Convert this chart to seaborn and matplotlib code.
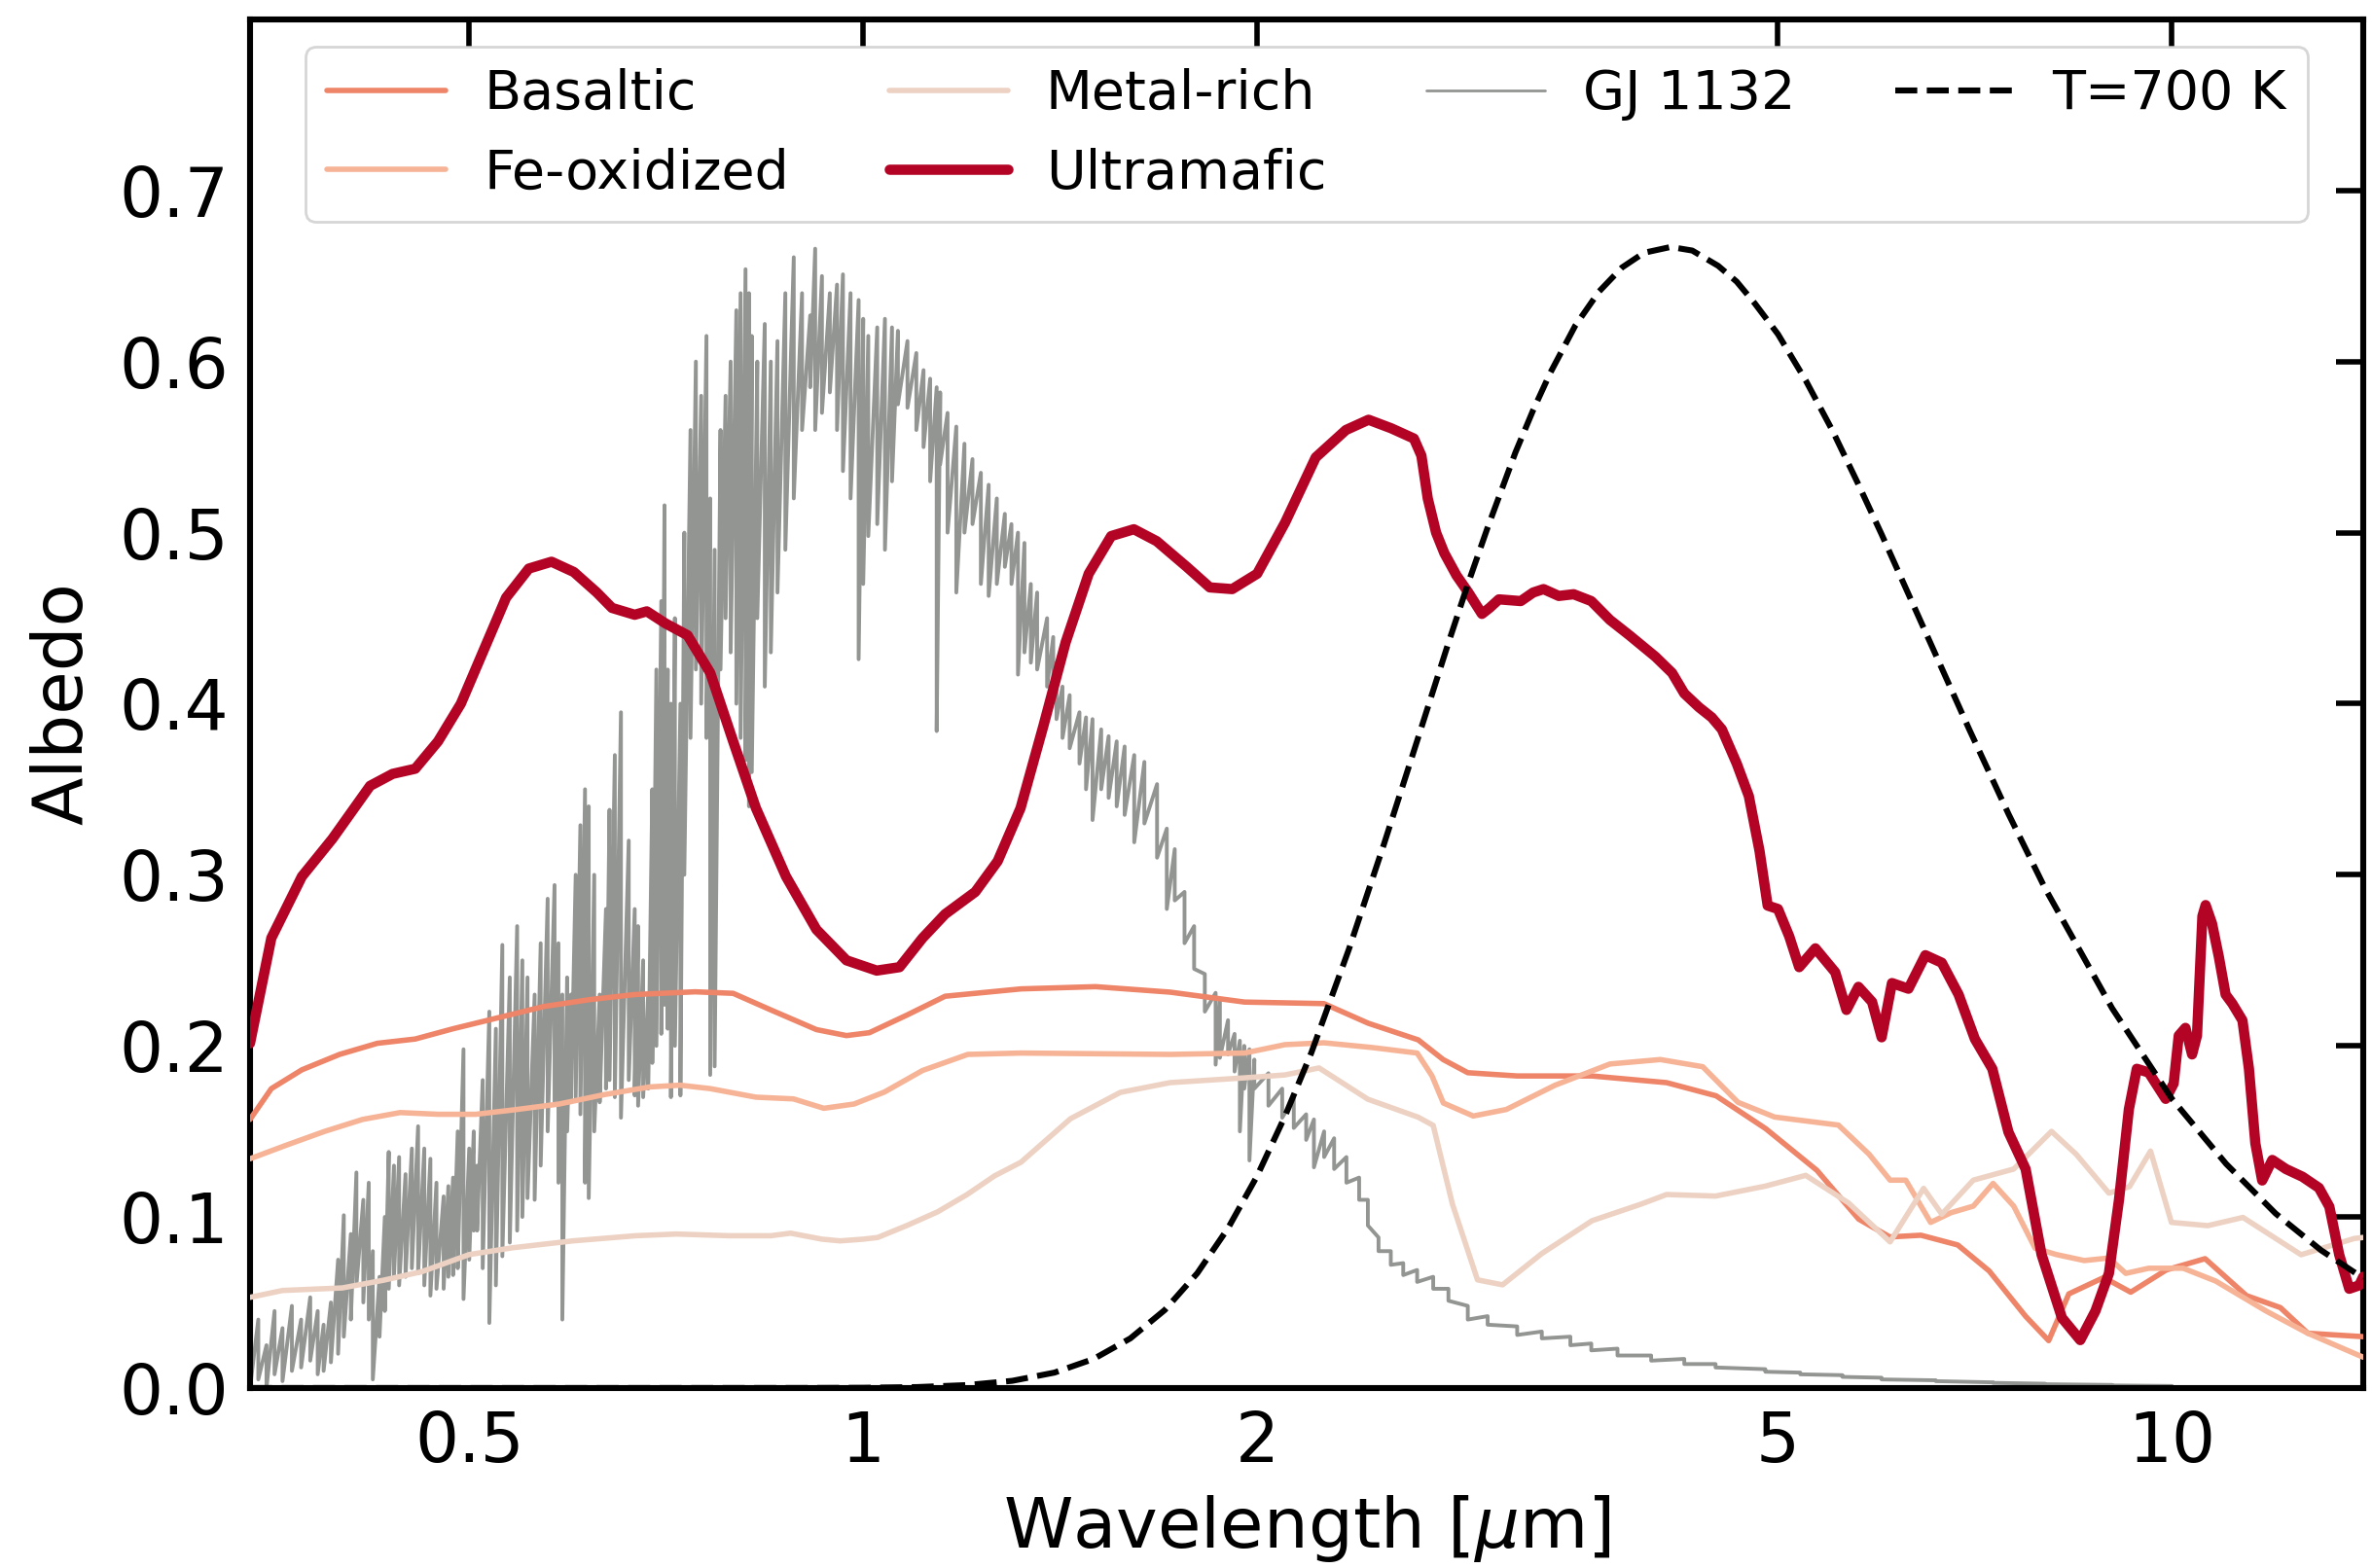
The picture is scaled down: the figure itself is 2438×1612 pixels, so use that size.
import matplotlib
matplotlib.use("Agg")
import matplotlib.pyplot as plt
from matplotlib.ticker import NullLocator
import pandas as pd
import seaborn as sns

# ---------------- surface albedo spectra ----------------
basaltic_wave = [0.34, 0.353, 0.3725, 0.398, 0.4254, 0.4547, 0.486, 0.5265, 0.57, 0.6176,
                 0.669, 0.744, 0.7955, 0.85, 0.921, 0.971, 1.011, 1.08, 1.155, 1.32,
                 1.505, 1.716, 1.956, 2.249, 2.432, 2.655, 2.774, 2.897, 3.16, 3.605,
                 4.11, 4.484, 4.893, 5.355, 5.763, 6.087, 6.43, 6.86, 7.25, 7.73,
                 8.05, 8.34, 8.87, 9.3, 9.9, 10.6, 11.4, 12.1, 12.7, 14.0]
basaltic_albedo = [0.157, 0.175, 0.186, 0.195, 0.2015, 0.204, 0.210, 0.2165, 0.223, 0.227,
                   0.230, 0.2316, 0.2307, 0.221, 0.2095, 0.206, 0.2077, 0.218, 0.229, 0.2333,
                   0.2346, 0.2314, 0.2256, 0.2247, 0.2132, 0.2035, 0.192, 0.1843, 0.1824, 0.1824,
                   0.1785, 0.1708, 0.1516, 0.1272, 0.0987, 0.0883, 0.0893, 0.0836, 0.0684, 0.0419,
                   0.0277, 0.055, 0.0646, 0.056, 0.069, 0.0756, 0.054, 0.047, 0.032, 0.030]

feox_wave = [0.34, 0.3626, 0.3877, 0.4145, 0.4428, 0.4733, 0.5058, 0.541, 0.5857, 0.634,
             0.6871, 0.7247, 0.7641, 0.828, 0.8844, 0.9331, 0.984, 1.038, 1.11, 1.202,
             1.32, 1.716, 1.956, 2.1, 2.249, 2.45, 2.65, 2.72, 2.775, 2.925,
             3.10, 3.378, 3.72, 4.065, 4.38, 4.66, 4.97, 5.56, 5.87, 6.09,
             6.26, 6.54, 6.78, 7.05, 7.30, 7.57, 7.86, 8.16, 8.57, 8.95,
             9.22, 9.6, 10.2, 10.8, 11.8, 12.7, 13.9, 14.0]
feox_albedo = [0.134, 0.142, 0.150, 0.157, 0.161, 0.160, 0.160, 0.1626, 0.166, 0.1715,
               0.176, 0.177, 0.175, 0.170, 0.169, 0.1635, 0.166, 0.173, 0.1856, 0.195,
               0.1958, 0.195, 0.1958, 0.2007, 0.2018, 0.199, 0.1958, 0.1825, 0.1666, 0.159,
               0.1628, 0.177, 0.1894, 0.192, 0.1878, 0.167, 0.1584, 0.1537, 0.1366, 0.1215,
               0.1215, 0.0968, 0.1025, 0.1063, 0.1196, 0.1063, 0.0817, 0.078, 0.0745, 0.076,
               0.067, 0.070, 0.070, 0.0625, 0.045, 0.032, 0.019, 0.018]

metal_wave = [0.34, 0.36, 0.40, 0.43, 0.46, 0.50, 0.54, 0.60, 0.67, 0.72,
              0.79, 0.85, 0.88, 0.93, 0.96, 1.00, 1.026, 1.08, 1.14, 1.20,
              1.26, 1.32, 1.44, 1.572, 1.716, 1.956, 2.1, 2.23, 2.43, 2.655,
              2.726, 2.82, 2.947, 3.08, 3.30, 3.605, 3.93, 4.11, 4.48, 4.89,
              5.25, 5.66, 6.09, 6.46, 6.67, 7.05, 7.57, 8.09, 8.45, 8.95,
              9.28, 9.63, 9.99, 10.65, 11.33, 12.55, 13.78, 14.0]
metal_albedo = [0.053, 0.057, 0.0585, 0.063, 0.068, 0.078, 0.082, 0.086, 0.089, 0.090,
                0.089, 0.089, 0.0905, 0.087, 0.086, 0.087, 0.088, 0.095, 0.103, 0.113,
                0.124, 0.132, 0.1574, 0.1728, 0.1785, 0.1813, 0.183, 0.1871, 0.1688, 0.1583,
                0.1535, 0.1074, 0.0632, 0.0603, 0.0786, 0.0978, 0.1075, 0.1131, 0.1122, 0.118,
                0.1243, 0.1082, 0.0854, 0.1167, 0.1016, 0.1215, 0.128, 0.150, 0.1366, 0.1139,
                0.1177, 0.1385, 0.0968, 0.0949, 0.0997, 0.0779, 0.0874, 0.088]

ultramafic_wave = [0.34, 0.353, 0.3725, 0.393, 0.420, 0.437, 0.4547, 0.4733, 0.4927, 0.5127,
                   0.5335, 0.5553, 0.5779, 0.601, 0.6259, 0.6428, 0.669, 0.6834, 0.706, 0.7342,
                   0.7641, 0.7955, 0.828, 0.873, 0.921, 0.971, 1.024, 1.066, 1.110, 1.155,
                   1.218, 1.267, 1.319, 1.373, 1.428, 1.487, 1.547, 1.610, 1.676, 1.767,
                   1.840, 1.914, 2.0, 2.101, 2.217, 2.338, 2.433, 2.532, 2.635, 2.67,
                   2.70, 2.74, 2.78, 2.84, 2.90, 2.97, 3.01, 3.06, 3.18, 3.25,
                   3.31, 3.40, 3.49, 3.60, 3.72, 3.85, 4.03, 4.15, 4.24, 4.35,
                   4.45, 4.53, 4.65, 4.75, 4.84, 4.91, 5.0, 5.10, 5.19, 5.34,
                   5.53, 5.64, 5.76, 5.90, 6.0, 6.11, 6.29, 6.48, 6.67, 6.87,
                   7.07, 7.29, 7.50, 7.73, 7.95, 8.24, 8.51, 8.74, 8.95, 9.11,
                   9.27, 9.40, 9.60, 9.89, 10.03, 10.12, 10.24, 10.36, 10.45, 10.55,
                   10.61, 10.73, 10.86, 10.99, 11.12, 11.32, 11.45, 11.58, 11.72, 11.93,
                   12.22, 12.58, 12.95, 13.19, 13.42, 13.66, 13.90, 14.0]
ultramafic_albedo = [0.2015, 0.263, 0.299, 0.321, 0.352, 0.359, 0.362, 0.378, 0.400, 0.431,
                     0.462, 0.479, 0.483, 0.477, 0.465, 0.456, 0.452, 0.454, 0.447, 0.440,
                     0.418, 0.378, 0.339, 0.299, 0.268, 0.250, 0.244, 0.246, 0.263, 0.277,
                     0.290, 0.308, 0.339, 0.387, 0.436, 0.476, 0.498, 0.502, 0.495, 0.480,
                     0.468, 0.467, 0.476, 0.506, 0.544, 0.560, 0.566, 0.561, 0.555, 0.545,
                     0.520, 0.500, 0.488, 0.475, 0.465, 0.4525, 0.456, 0.461, 0.460, 0.465,
                     0.467, 0.463, 0.464, 0.460, 0.449, 0.440, 0.4275, 0.418, 0.406, 0.398,
                     0.392, 0.385, 0.365, 0.346, 0.314, 0.282, 0.280, 0.264, 0.246, 0.257,
                     0.243, 0.221, 0.2345, 0.2257, 0.205, 0.2367, 0.2334, 0.253, 0.2486, 0.230,
                     0.204, 0.1866, 0.1496, 0.128, 0.078, 0.041, 0.028, 0.045, 0.067, 0.110,
                     0.163, 0.1866, 0.1844, 0.169, 0.178, 0.206, 0.2105, 0.195, 0.206, 0.2758,
                     0.2823, 0.2715, 0.252, 0.230, 0.2247, 0.2149, 0.1866, 0.143, 0.1213, 0.1333,
                     0.128, 0.1235, 0.117, 0.106, 0.078, 0.058, 0.060, 0.065]

# ---------------- GJ 1132 stellar spectrum (upper / lower envelope) ----------------
gj_wave = [0.340, 0.345, 0.350, 0.355, 0.360, 0.366, 0.372, 0.378, 0.383, 0.387,
           0.392, 0.397, 0.401, 0.406, 0.410, 0.415, 0.419, 0.422, 0.427, 0.431,
           0.434, 0.438, 0.442, 0.447, 0.452, 0.457, 0.462, 0.467, 0.472, 0.478,
           0.482, 0.486, 0.490, 0.495, 0.500, 0.504, 0.507, 0.512, 0.518, 0.524,
           0.530, 0.537, 0.544, 0.549, 0.554, 0.561, 0.567, 0.574, 0.581, 0.585,
           0.589, 0.594, 0.598, 0.603, 0.608, 0.613, 0.617, 0.623, 0.629, 0.636,
           0.640, 0.646, 0.653, 0.662, 0.669, 0.673, 0.679, 0.685, 0.690, 0.695,
           0.701, 0.705, 0.709, 0.713, 0.718, 0.725, 0.730, 0.738, 0.745, 0.752,
           0.759, 0.764, 0.770, 0.778, 0.785, 0.792, 0.800, 0.806, 0.813, 0.818,
           0.822, 0.830, 0.841, 0.850, 0.860, 0.872, 0.885, 0.898, 0.911, 0.919,
           0.930, 0.943, 0.955, 0.965, 0.978, 0.992, 1.000, 1.009, 1.025, 1.039,
           1.052, 1.063, 1.081, 1.098, 1.112, 1.125, 1.138, 1.145, 1.160, 1.178,
           1.195, 1.212, 1.230, 1.247, 1.265, 1.283, 1.298, 1.313, 1.328, 1.343,
           1.358, 1.382, 1.397, 1.405, 1.420, 1.438, 1.463, 1.480, 1.497, 1.520,
           1.540, 1.562, 1.584, 1.611, 1.640, 1.677, 1.706, 1.730, 1.760, 1.790,
           1.824, 1.859, 1.873, 1.900, 1.922, 1.940, 1.955, 1.973, 1.990, 2.040,
           2.090, 2.133, 2.180, 2.210, 2.250, 2.290, 2.340, 2.393, 2.430, 2.476,
           2.530, 2.586, 2.650, 2.726, 2.800, 2.897, 3.000, 3.160, 3.300, 3.470,
           3.600, 3.770, 4.000, 4.240, 4.480, 4.890, 5.200, 5.600, 6.000, 6.600,
           7.300, 8.000, 9.000, 10.00]
gj_upper = [0.030, 0.040, 0.025, 0.045, 0.035, 0.048, 0.040, 0.053, 0.045, 0.037,
            0.050, 0.075, 0.101, 0.090, 0.126, 0.110, 0.120, 0.080, 0.065, 0.100,
            0.138, 0.130, 0.135, 0.125, 0.140, 0.153, 0.140, 0.134, 0.120, 0.112,
            0.118, 0.123, 0.150, 0.198, 0.140, 0.150, 0.130, 0.180, 0.220, 0.210,
            0.259, 0.240, 0.270, 0.250, 0.240, 0.230, 0.260, 0.286, 0.294, 0.260,
            0.230, 0.240, 0.230, 0.300, 0.329, 0.350, 0.340, 0.300, 0.230, 0.280,
            0.338, 0.370, 0.395, 0.320, 0.280, 0.270, 0.250, 0.230, 0.350, 0.420,
            0.460, 0.516, 0.420, 0.400, 0.450, 0.400, 0.500, 0.560, 0.600, 0.580,
            0.615, 0.520, 0.490, 0.560, 0.580, 0.600, 0.630, 0.640, 0.654, 0.640,
            0.615, 0.600, 0.622, 0.600, 0.612, 0.640, 0.661, 0.640, 0.627, 0.666,
            0.650, 0.640, 0.645, 0.651, 0.640, 0.636, 0.625, 0.615, 0.620, 0.625,
            0.620, 0.618, 0.612, 0.605, 0.595, 0.590, 0.585, 0.582, 0.570, 0.562,
            0.552, 0.543, 0.535, 0.528, 0.520, 0.511, 0.505, 0.500, 0.494, 0.470,
            0.465, 0.450, 0.439, 0.424, 0.410, 0.405, 0.395, 0.392, 0.391, 0.385,
            0.381, 0.378, 0.375, 0.370, 0.366, 0.353, 0.327, 0.315, 0.290, 0.270,
            0.242, 0.231, 0.227, 0.215, 0.207, 0.203, 0.200, 0.198, 0.192, 0.184,
            0.175, 0.169, 0.160, 0.157, 0.150, 0.146, 0.135, 0.123, 0.110, 0.088,
            0.080, 0.073, 0.069, 0.065, 0.058, 0.048, 0.042, 0.036, 0.033, 0.030,
            0.026, 0.023, 0.019, 0.017, 0.014, 0.011, 0.009, 0.0075, 0.006, 0.0045,
            0.0033, 0.0025, 0.0018, 0.0012]
gj_lower = [0.000, 0.005, 0.000, 0.008, 0.004, 0.010, 0.012, 0.016, 0.008, 0.010,
            0.015, 0.020, 0.030, 0.040, 0.060, 0.050, 0.040, 0.005, 0.030, 0.045,
            0.058, 0.065, 0.060, 0.065, 0.070, 0.067, 0.060, 0.054, 0.058, 0.058,
            0.065, 0.066, 0.070, 0.052, 0.075, 0.092, 0.092, 0.070, 0.038, 0.060,
            0.077, 0.085, 0.092, 0.100, 0.111, 0.110, 0.130, 0.150, 0.167, 0.120,
            0.040, 0.150, 0.167, 0.170, 0.160, 0.120, 0.111, 0.150, 0.167, 0.175,
            0.180, 0.170, 0.158, 0.180, 0.171, 0.165, 0.170, 0.175, 0.190, 0.200,
            0.207, 0.224, 0.210, 0.170, 0.200, 0.171, 0.300, 0.380, 0.420, 0.400,
            0.380, 0.183, 0.188, 0.420, 0.450, 0.430, 0.400, 0.380, 0.367, 0.340,
            0.360, 0.450, 0.410, 0.430, 0.465, 0.490, 0.520, 0.560, 0.585, 0.560,
            0.570, 0.582, 0.560, 0.536, 0.520, 0.426, 0.470, 0.498, 0.505, 0.490,
            0.530, 0.575, 0.573, 0.560, 0.550, 0.530, 0.384, 0.540, 0.500, 0.465,
            0.500, 0.505, 0.470, 0.463, 0.470, 0.480, 0.470, 0.417, 0.430, 0.424,
            0.420, 0.410, 0.403, 0.391, 0.380, 0.374, 0.365, 0.350, 0.332, 0.350,
            0.345, 0.340, 0.335, 0.319, 0.330, 0.310, 0.280, 0.285, 0.260, 0.245,
            0.220, 0.189, 0.193, 0.195, 0.185, 0.150, 0.175, 0.133, 0.175, 0.165,
            0.158, 0.152, 0.145, 0.129, 0.135, 0.128, 0.120, 0.110, 0.095, 0.080,
            0.072, 0.066, 0.062, 0.058, 0.051, 0.040, 0.037, 0.031, 0.029, 0.025,
            0.022, 0.019, 0.016, 0.014, 0.012, 0.0095, 0.008, 0.0065, 0.005, 0.004,
            0.003, 0.0022, 0.0015, 0.0010]

# ---------------- 700 K blackbody, peak-normalised ----------------
bb_wave = [0.34, 0.6, 0.9, 1.0, 1.1, 1.2, 1.3, 1.4, 1.5, 1.6,
           1.7, 1.8, 1.9, 2.0, 2.1, 2.2, 2.35, 2.5, 2.65, 2.8,
           2.9, 3.0, 3.15, 3.25, 3.35, 3.5, 3.65, 3.8, 3.95, 4.14,
           4.3, 4.5, 4.65, 4.8, 5.0, 5.25, 5.5, 5.75, 6.0, 6.5,
           7.0, 7.5, 8.0, 9.0, 10.0, 11.0, 12.0, 13.0, 14.0]
bb_albedo = [0.0, 0.0, 0.00003, 0.00014, 0.00055, 0.0017, 0.0042, 0.0090, 0.0170, 0.029,
             0.0456, 0.0671, 0.0934, 0.124, 0.1588, 0.196, 0.2564, 0.318, 0.3783, 0.4356,
             0.4708, 0.503, 0.5468, 0.5716, 0.5935, 0.621, 0.641, 0.655, 0.6636, 0.667,
             0.6649, 0.656, 0.6467, 0.634, 0.616, 0.589, 0.560, 0.5294, 0.499, 0.4398,
             0.385, 0.3356, 0.292, 0.222, 0.169, 0.131, 0.102, 0.0805, 0.0642]

x_ticks = [0.5, 1, 2, 5, 10]
x_ticklabels = ["0.5", "1", "2", "5", "10"]
y_ticks = [0.0, 0.1, 0.2, 0.3, 0.4, 0.5, 0.6, 0.7]

# ---------------- style ----------------
sns.set_style("white")
plt.rcParams["font.family"] = ["DejaVu Sans"]
plt.rcParams["mathtext.fontset"] = "dejavusans"
for key in ("text.color", "axes.labelcolor", "xtick.color", "ytick.color", "axes.edgecolor"):
    plt.rcParams[key] = "black"

cmap = plt.get_cmap("coolwarm")
c_basaltic = cmap(0.80)
c_feox = cmap(0.68)
c_metal = cmap(0.57)
c_ultra = cmap(1.0)
c_star = "#929592"

fig, ax = plt.subplots(figsize=(12.19, 8.06), dpi=200)
fig.subplots_adjust(left=0.1054, right=0.9963, top=0.9876, bottom=0.1148)

curves = [
    ("Basaltic", basaltic_wave, basaltic_albedo, c_basaltic, 2.0),
    ("Fe-oxidized", feox_wave, feox_albedo, c_feox, 2.0),
    ("Metal-rich", metal_wave, metal_albedo, c_metal, 2.0),
    ("Ultramafic", ultramafic_wave, ultramafic_albedo, c_ultra, 3.8),
]
for name, w, a, col, lw in curves:
    df = pd.DataFrame({"wavelength": w, "albedo": a})
    sns.lineplot(data=df, x="wavelength", y="albedo", ax=ax, color=col,
                 linewidth=lw, label=name, zorder=3)

# stellar spectrum: at each sample the trace runs from the upper to the lower
# envelope and then jumps to the next sample's upper envelope (saw-tooth)
comb_x, comb_y = [], []
for w, hi, lo in zip(gj_wave, gj_upper, gj_lower):
    comb_x += [w, w]
    comb_y += [hi, lo]
star = pd.DataFrame({"wavelength": comb_x, "flux": comb_y})
sns.lineplot(data=star, x="wavelength", y="flux", ax=ax, color=c_star,
             linewidth=1.4, label="GJ 1132", sort=False, estimator=None, zorder=2)

bb = pd.DataFrame({"wavelength": bb_wave, "albedo": bb_albedo})
sns.lineplot(data=bb, x="wavelength", y="albedo", ax=ax, color="black",
             linewidth=2.2, linestyle="--", label="T=700 K", zorder=4)

ax.set_xscale("log")
ax.set_xlim(0.34, 14.0)
ax.set_ylim(0.0, 0.8)
ax.set_xticks(x_ticks)
ax.set_xticklabels(x_ticklabels)
ax.xaxis.set_minor_locator(NullLocator())
ax.set_yticks(y_ticks)
ax.set_yticklabels([f"{v:.1f}" for v in y_ticks])
ax.tick_params(axis="both", which="major", direction="in", top=True, right=True,
               length=10, width=2.0, labelsize=25.5, pad=8, color="black",
               labelcolor="black")
for sp in ax.spines.values():
    sp.set_linewidth(2.2)
    sp.set_color("black")

ax.set_xlabel(r"Wavelength [$\mu$m]", fontsize=26, labelpad=6)
ax.set_ylabel("Albedo", fontsize=26, labelpad=8)

leg = ax.legend(loc="upper center", ncol=4, fontsize=20, handlelength=2.2,
                columnspacing=1.85, handletextpad=0.7, frameon=True)
leg.get_lines()[4].set_linewidth(1.0)

fig.savefig("out.png", dpi=200)
